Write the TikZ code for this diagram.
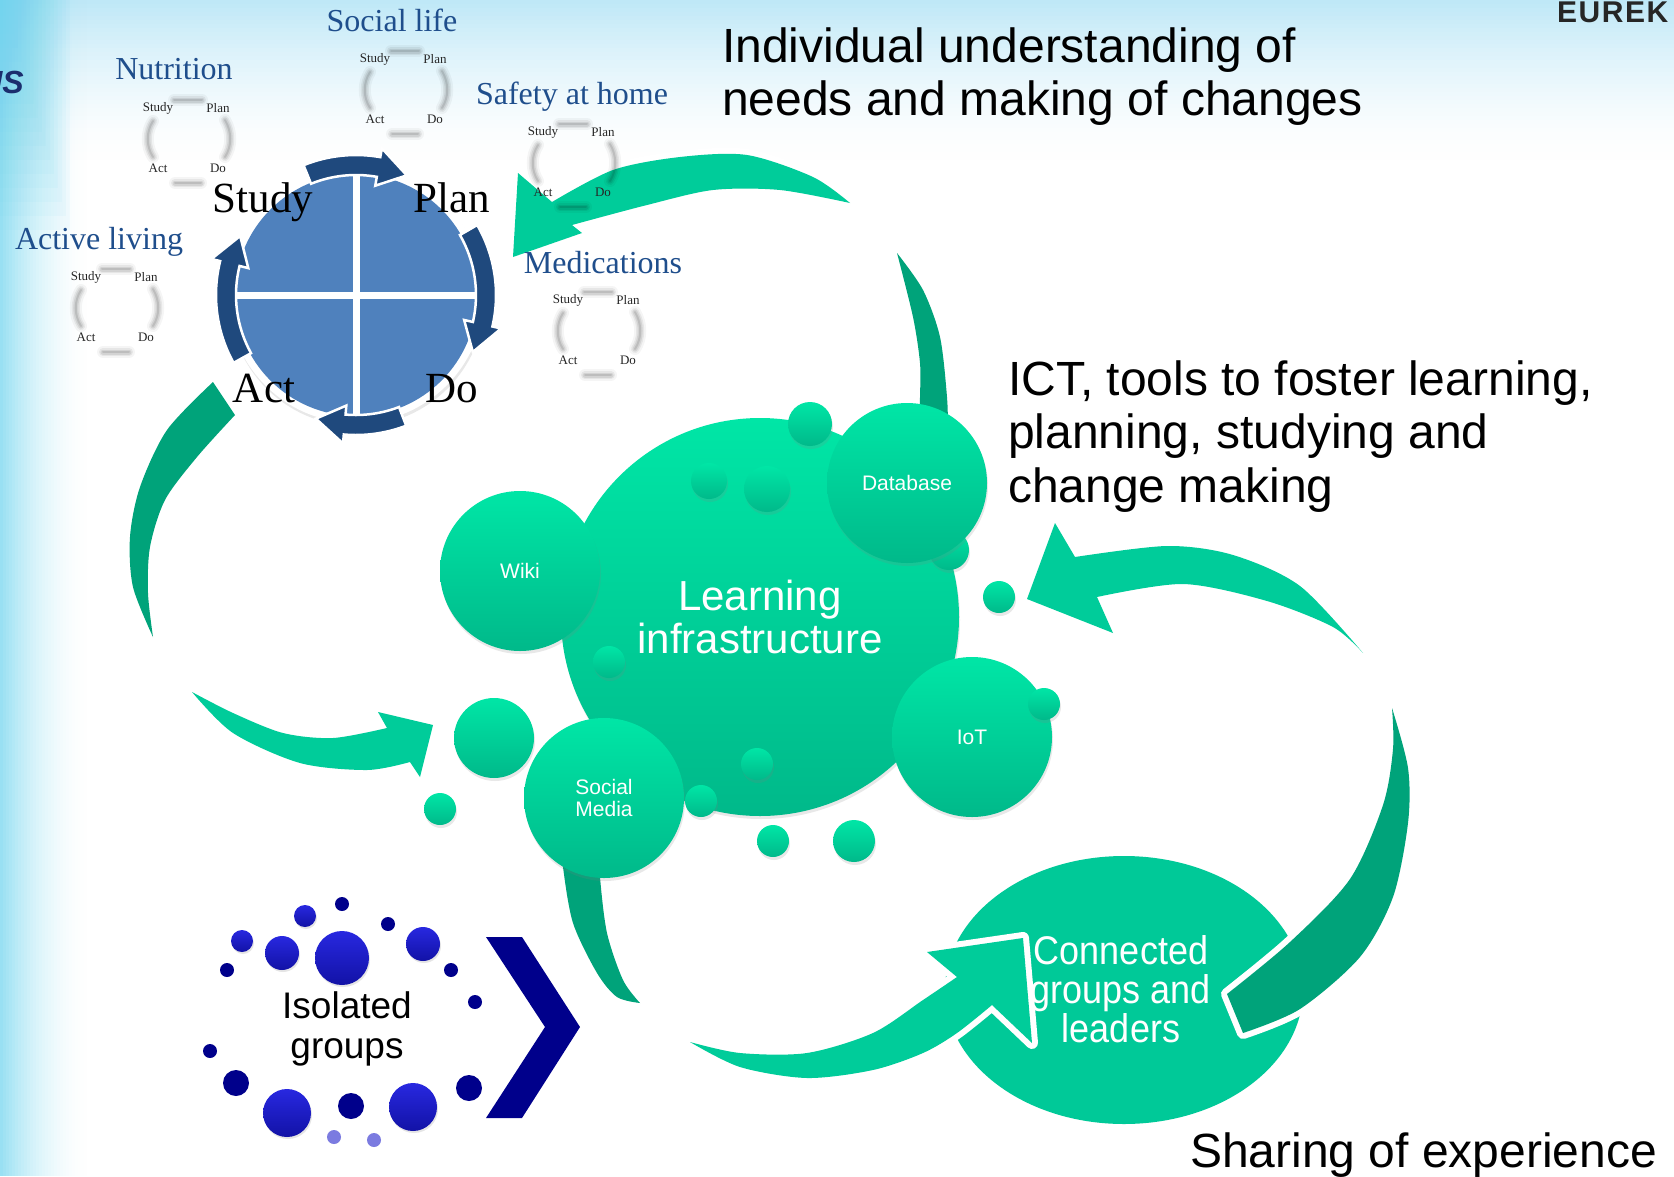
\documentclass[tikz,border=0pt]{standalone}
\usepackage{fontspec}
\setmainfont{Liberation Serif}
\newfontfamily\sansf{Liberation Sans}
\newfontfamily\condf{Liberation Sans}[FakeStretch=0.9]
\newfontfamily\seriff{Liberation Serif}
\newfontfamily\logof{Liberation Sans}[LetterSpace=5]
\usetikzlibrary{shadows,shapes.geometric}
\definecolor{bgcyan}{HTML}{6ED4EE}
\definecolor{bgtop}{HTML}{BCE7F7}
\definecolor{gtop}{HTML}{00E6A6}
\definecolor{gbot}{HTML}{00B98A}
\definecolor{glight}{HTML}{00CC9A}
\definecolor{gdark}{HTML}{00A37A}
\definecolor{gconn}{HTML}{00C998}
\definecolor{pdsablue}{HTML}{4F81BD}
\definecolor{pdsadark}{HTML}{1F497D}
\definecolor{lblblue}{HTML}{1F4E8C}
\definecolor{dotnavy}{HTML}{00008B}
\definecolor{dotbtop}{HTML}{2828E0}
\definecolor{dotbbot}{HTML}{1212A6}
\definecolor{dotlight}{HTML}{7B7BE0}
\definecolor{logoblue}{HTML}{1B2E6E}
\tikzset{
  bigtxt/.style={font=\sansf\fontsize{48}{53}\selectfont, inner sep=0, anchor=base west},
  lbl/.style={font=\seriff\fontsize{32}{32}\selectfont, text=lblblue, inner sep=0, anchor=base},
  pdsalbl/.style={font=\seriff\fontsize{43}{43}\selectfont, inner sep=0, anchor=base},
  minitxt/.style={font=\seriff\fontsize{13}{13}\selectfont, text=black!85, inner sep=0},
  bub/.style={circle, inner sep=0, minimum size=#1, top color=gtop, bottom color=gbot,
     text=white, font=\sansf\fontsize{21}{22}\selectfont, align=center,
     drop shadow={shadow xshift=1pt, shadow yshift=-3pt, opacity=0.18}},
  dotn/.style={circle, inner sep=0, minimum size=#1, fill=dotnavy},
  dotb/.style={circle, inner sep=0, minimum size=#1, top color=dotbtop, bottom color=dotbbot,
     drop shadow={shadow xshift=1pt, shadow yshift=-2pt, opacity=0.2}},
  dotl/.style={circle, inner sep=0, minimum size=#1, fill=dotlight},
  arrowpiece/.style={preaction={draw=white, line width=12pt, line join=round}},
  pdsaarrow/.style={fill=pdsadark, draw=white, line width=2.5pt, line join=miter},
  blur/.style={line cap=round, draw=black}
}
\newcommand\pdsaarr[2]{%
  \pgfmathsetmacro\hb{#2-13}%
  \filldraw[pdsaarrow] (#1:140) arc[start angle=#1, end angle=\hb, radius=140]
     -- (\hb:149) -- (#2:130) -- (\hb:111) -- (\hb:120)
     arc[start angle=\hb, end angle=#1, radius=120] -- cycle;}
\newcommand\minicyc[3]{%
  \begin{scope}[shift={(#2,#3)}]
    \foreach \w/\o in {12/0.04, 8/0.06, 5/0.08, 2/0.1}{
      \draw[blur, line width=\w, draw opacity=\o] (-14,-38) -- (14,-38);
      \draw[blur, line width=\w, draw opacity=\o] (-13,45) -- (13,45);
      \draw[blur, line width=\w, draw opacity=\o] (-35,-17) .. controls (-42,-6) and (-42,8) .. (-35,19);
      \draw[blur, line width=\w, draw opacity=\o] (37,-18) .. controls (44,-6) and (44,8) .. (37,19);
    }
    \node[minitxt] (#1S) at (-30,-30) {Study};
    \node[minitxt] (#1P) at (30,-30) {Plan};
    \node[minitxt] (#1A) at (-30,30) {Act};
    \node[minitxt] (#1D) at (30,30) {Do};
  \end{scope}}
\begin{document}
\begin{tikzpicture}[x=1pt,y=-1pt]
\useasboundingbox (0,0) rectangle (1674,1176);
% background
\fill[white] (0,0) rectangle (1674,1176);
\foreach \j in {0,...,39}{
  \pgfmathsetmacro\op{0.95*(1-\j/40)^1.6}
  \fill[bgtop, opacity=\op] (0,{\j*4}) rectangle (1674,{\j*4+4});
}
\foreach \i in {0,...,29}{
  \pgfmathsetmacro\op{0.7*(1-\i/30)^2}
  \fill[bgcyan, opacity=\op] ({\i*3},0) rectangle ({\i*3+3},1176);
}
\foreach \k in {0,...,14}{
  \fill[bgcyan, opacity=0.06] (0,0) rectangle ({70-4*\k},{230-14*\k});
}
% logos
\node[font=\logof\bfseries\fontsize{30}{30}\selectfont, text=black!85, inner sep=0, anchor=base west] (eurek) at (1557,22) {EUREK};
\node[font=\sansf\bfseries\itshape\fontsize{32}{32}\selectfont, text=logoblue, inner sep=0, anchor=base east] (islogo) at (24,93) {IS};
% connected ellipse
\node[ellipse, minimum width=358, minimum height=268, fill=gconn, inner sep=0] (conn) at (1124,990) {};
% green arrow A (top)
\fill[gdark, arrowpiece] plot[smooth] coordinates {(897,253) (923,290) (940,337) (947,397) (948,432)} -- (919,432)
  -- plot[smooth] coordinates {(919,432) (920,397) (920,363) (913,317) (897,253)} -- cycle;
\fill[glight, arrowpiece] plot[smooth] coordinates {(850,203) (813,177) (747,155) (680,157) (613,170) (552,202)}
  -- (518,173) -- (513,257) -- (582,233) -- (572,225)
  -- plot[smooth] coordinates {(572,225) (647,205) (713,190) (780,190) (850,203)} -- cycle;
% green arrow B (left)
\fill[gdark, arrowpiece] plot[smooth] coordinates {(213,382) (167,430) (140,487) (130,537) (133,587) (153,637)}
  -- plot[smooth] coordinates {(153,637) (148,593) (150,547) (165,500) (197,457) (235,415)} -- cycle;
\fill[glight, arrowpiece] plot[smooth] coordinates {(192,692) (233,733) (300,763) (367,770) (410,762)}
  -- (420,777) -- (433,725) -- (378,712) -- (387,728)
  -- plot[smooth] coordinates {(387,728) (333,738) (283,733) (233,713) (192,692)} -- cycle;
% green arrow C (right)
\fill[gdark, arrowpiece] plot[smooth] coordinates {(1392,708) (1408,768) (1408,823) (1393,897) (1360,957) (1300,1009) (1243,1033)}
  -- (1227,994)
  -- plot[smooth] coordinates {(1227,994) (1290,942) (1350,879) (1383,805) (1393,749) (1392,708)} -- cycle;
\fill[glight, arrowpiece] plot[smooth] coordinates {(1363,653) (1300,586) (1233,555) (1167,546) (1075,557)}
  -- (1055,523) -- (1027,599) -- (1113,633) -- (1097,597)
  -- plot[smooth] coordinates {(1097,597) (1183,584) (1267,601) (1333,627) (1363,653)} -- cycle;
% green arrow D (bottom)
\fill[gdark, arrowpiece] plot[smooth] coordinates {(563,850) (563,867) (573,923) (597,973) (617,997) (640,1003)}
  -- plot[smooth] coordinates {(640,1003) (623,980) (607,933) (600,877) (600,850)} -- cycle;
\fill[glight, arrowpiece] plot[smooth] coordinates {(690,1042) (740,1067) (807,1078) (873,1070) (923,1053) (957,1033) (992,1005)}
  -- (1032,1043) -- (1023,938) -- (927,952) -- (957,977)
  -- plot[smooth] coordinates {(957,977) (923,1000) (873,1033) (807,1053) (740,1053) (690,1042)} -- cycle;
% bubbles
\node[bub=398, font=\sansf\fontsize{42}{43}\selectfont] (learn) at (760,617) {Learning\\infrastructure};
\node[bub=40] (s1) at (949,550) {};
\node[bub=160] (db) at (907,483) {Database};
\node[bub=44] (s2) at (810,424) {};
\node[bub=36] (s3) at (709,481) {};
\node[bub=46] (s4) at (767,489) {};
\node[bub=160] (wiki) at (520,571) {Wiki};
\node[bub=32] (s5) at (609,662) {};
\node[bub=160] (iot) at (972,737) {IoT};
\node[bub=32] (s6) at (1044,704) {};
\node[bub=32] (s7) at (999,597) {};
\node[bub=80] (s8) at (494,738) {};
\node[bub=32] (s9) at (440,809) {};
\node[bub=160] (soc) at (604,798) {Social\\Media};
\node[bub=32] (s10) at (757,764) {};
\node[bub=32] (s11) at (701,801) {};
\node[bub=32] (s12) at (773,841) {};
\node[bub=42] (s13) at (854,841) {};
% connected text
\node[font=\condf\fontsize{40}{39}\selectfont, text=white, align=center, inner sep=0] (conntxt) at (1121,989) {Connected\\groups and\\leaders};
% isolated groups
\foreach \p [count=\i] in {(342,904),(388,924),(227,970),(451,970),(475,1002),(210,1051)}
  \node[dotn=14] (dn\i) at \p {};
\foreach \p [count=\i] in {(236,1083),(351,1106),(469,1088)}
  \node[dotn=26] (dm\i) at \p {};
\node[dotb=22] (db1) at (305,916) {};
\node[dotb=22] (db2) at (242,941) {};
\node[dotb=34] (db3) at (282,953) {};
\node[dotb=54] (db4) at (342,958) {};
\node[dotb=34] (db5) at (423,944) {};
\node[dotb=48] (db6) at (287,1113) {};
\node[dotb=48] (db7) at (413,1107) {};
\node[dotl=14] (dl1) at (334,1137) {};
\node[dotl=14] (dl2) at (374,1140) {};
\node[font=\sansf\fontsize{37}{40}\selectfont, align=center, inner sep=0] (iso) at (347,1029) {Isolated\\groups};
\fill[dotnavy] (486,937) -- (522,937) -- (580,1027) -- (522,1118) -- (486,1118) -- (545,1027) -- cycle;
% PDSA circle
\node[circle, fill=white, minimum size=256, inner sep=0, drop shadow={shadow xshift=1pt, shadow yshift=-3pt, opacity=0.18}] (pdsa) at (356,295) {};
\begin{scope}[shift={(356,295)}]
  \fill[pdsablue] (0,0) circle (121);
  \draw[white, line width=7pt] (0,-121) -- (0,121) (-121,0) -- (121,0);
  \pdsaarr{-112}{-67}
  \pdsaarr{-30}{26}
  \pdsaarr{69}{108}
  \pdsaarr{151}{207}
\end{scope}
\node[pdsalbl] (study) at (263,212) {Study};
\node[pdsalbl] (plan) at (452,212) {Plan};
\node[pdsalbl] (act) at (264,402) {Act};
\node[pdsalbl] (do) at (452,402) {Do};
% small cycles and labels
\minicyc{nu}{188}{138}
\minicyc{so}{405}{89}
\minicyc{sa}{573}{162}
\minicyc{al}{116}{307}
\minicyc{me}{598}{330}
\node[lbl] (lsocial) at (392,31) {Social life};
\node[lbl] (lnutri) at (174,79) {Nutrition};
\node[lbl] (lsafety) at (572,104) {Safety at home};
\node[lbl] (lactive) at (99,249) {Active living};
\node[lbl] (lmed) at (603,273) {Medications};
% big texts
\node[bigtxt] (t1a) at (722,62) {Individual understanding of};
\node[bigtxt] (t1b) at (722,115) {needs and making of changes};
\node[bigtxt] (t2a) at (1008,395) {ICT, tools to foster learning,};
\node[bigtxt] (t2b) at (1008,448) {planning, studying and};
\node[bigtxt] (t2c) at (1008,502) {change making};
\node[bigtxt] (t3) at (1190,1167) {Sharing of experience};
\end{tikzpicture}
\end{document}
